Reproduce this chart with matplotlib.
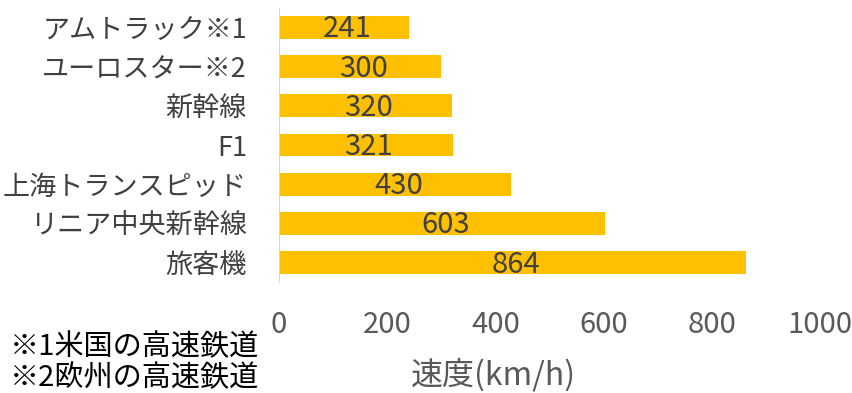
import matplotlib.pyplot as plt

plt.rcParams['font.family'] = ['Noto Sans CJK JP', 'DejaVu Sans']

# data (top to bottom in the picture)
categories = ['アムトラック※1', 'ユーロスター※2', '新幹線', 'F1',
              '上海トランスピッド', 'リニア中央新幹線', '旅客機']
speeds = [241, 300, 320, 321, 430, 603, 864]
xticks = [0, 200, 400, 600, 800, 1000]
notes = ['※1米国の高速鉄道', '※2欧州の高速鉄道']

fig = plt.figure(figsize=(8.53, 3.93), dpi=100)
ax = fig.add_axes([0.327, 0.282, 0.634, 0.698])

ypos = list(range(len(categories)))
bars = ax.barh(ypos, speeds, height=0.58, color='#FFC000')
for b, v in zip(bars, speeds):
    ax.text(b.get_x() + b.get_width() / 2 + 6, b.get_y() + b.get_height() / 2 + 0.05, str(v),
            ha='center', va='center', fontsize=21, color='#404040')

ax.set_xlim(0, 1000)
ax.set_ylim(len(categories) - 0.5, -0.5)
ax.set_yticks(ypos)
ax.set_yticklabels(categories, fontsize=19.5, color='#404040')
ax.set_xticks(xticks)
ax.set_xticklabels([str(t) for t in xticks], fontsize=21, color='#595959')
ax.tick_params(axis='both', length=0)
ax.tick_params(axis='y', pad=23)
ax.tick_params(axis='x', pad=20)
for s in ['top', 'right', 'bottom']:
    ax.spines[s].set_visible(False)
ax.spines['left'].set_color('#D9D9D9')

fig.text(493 / 853, 1 - 375 / 393, '速度(km/h)', ha='center', va='center',
         fontsize=23, color='#595959')
for i, n in enumerate(notes):
    fig.text(10 / 853, 1 - (347 + 31 * i) / 393, n, ha='left', va='center',
             fontsize=21, color='black')

fig.savefig('out.png', dpi=100)
